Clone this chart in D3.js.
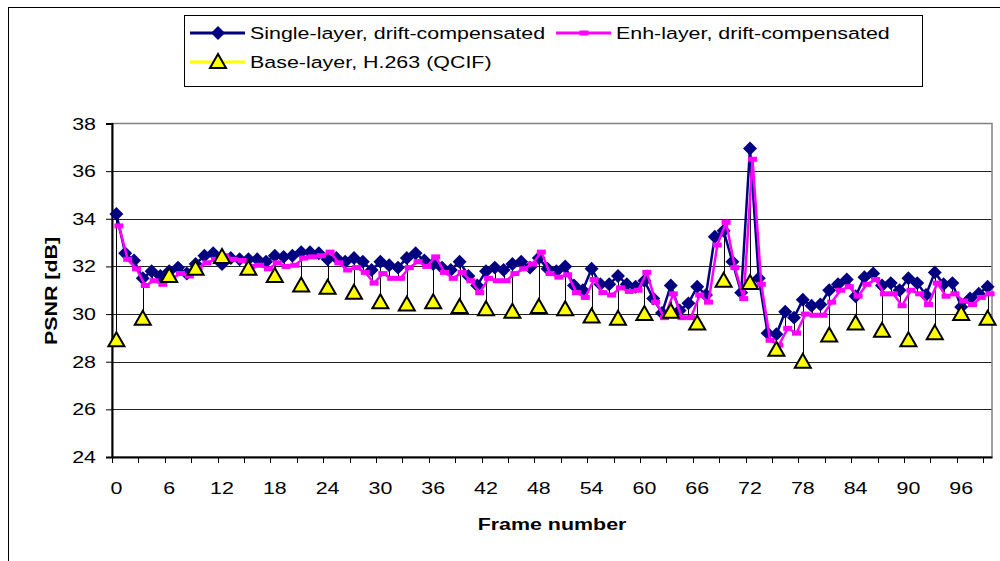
<!DOCTYPE html>
<html>
<head>
<meta charset="utf-8">
<script src="https://cdn.jsdelivr.net/npm/d3@7"></script>
<style>
  html, body { margin: 0; padding: 0; background: #fff; }
  svg { display: block; font-family: "Liberation Sans", Arial, sans-serif; }
</style>
</head>
<body>
<svg id="chart" width="1000" height="561"></svg>
<script>
// PSNR per frame
const frames = d3.range(0, 100);

const singleLayer = [
  34.2, 32.55, 32.25, 31.5, 31.8, 31.6, 31.8, 31.95, 31.7, 32.1,
  32.45, 32.55, 32.1, 32.35, 32.3, 32.3, 32.3, 32.2, 32.45, 32.4,
  32.45, 32.6, 32.6, 32.55, 32.3, 32.35, 32.2, 32.35, 32.2, 31.85,
  32.2, 32.05, 31.95, 32.35, 32.55, 32.25, 32.1, 31.95, 31.85, 32.2,
  31.6, 31.2, 31.8, 31.95, 31.85, 32.1, 32.2, 31.95, 32.35, 31.9,
  31.8, 32.0, 31.2, 31.0, 31.9, 31.25, 31.25, 31.6, 31.25, 31.15,
  31.4, 30.65, 30.05, 31.2, 30.15, 30.45, 31.15, 30.8, 33.25, 33.5,
  32.2, 30.9, 36.95, 31.5, 29.2, 29.15, 30.1, 29.85, 30.6, 30.35,
  30.4, 31.0, 31.25, 31.45, 30.75, 31.55, 31.7, 31.2, 31.3, 31.0,
  31.5, 31.3, 30.8, 31.75, 31.25, 31.3, 30.3, 30.65, 30.85, 31.15
];

const enhLayer = [
  33.7, 32.3, 31.9, 31.2, 31.4, 31.25, 31.5, 31.7, 31.6, 31.95,
  32.15, 32.3, 32.45, 32.3, 32.25, 32.0, 32.05, 31.9, 32.15, 32.0,
  32.05, 32.35, 32.4, 32.45, 32.6, 32.15, 31.85, 31.95, 31.75, 31.3,
  31.7, 31.5, 31.5, 31.95, 32.2, 32.0, 32.4, 31.75, 31.5, 31.75,
  31.4, 30.9, 31.5, 31.4, 31.4, 31.7, 31.9, 32.1, 32.6, 31.7,
  31.55, 31.65, 30.9, 30.7, 31.45, 30.9, 30.8, 31.1, 30.95, 31.0,
  31.75, 30.5, 29.85, 30.85, 29.85, 29.85, 30.8, 30.5, 32.9, 33.85,
  31.95, 30.65, 36.5, 31.25, 28.9, 28.7, 29.4, 29.2, 30.0, 29.95,
  29.95, 30.5, 31.0, 31.15, 30.75, 31.25, 31.45, 30.85, 30.85, 30.35,
  31.0, 30.85, 30.4, 31.3, 30.75, 30.85, 30.55, 30.4, 30.7, 30.85
];

// base layer is coded every third frame only
const baseFrames = d3.range(0, 100, 3);
const baseLayer = [
  28.9, 29.8, 31.6, 31.9, 32.4, 31.9, 31.6, 31.2, 31.1, 30.9,
  30.5, 30.4, 30.5, 30.3, 30.2, 30.1, 30.3, 30.2, 29.9, 29.8,
  30.0, 30.1, 29.6, 31.4, 31.3, 28.5, 28.0, 29.1, 29.6, 29.3,
  28.9, 29.2, 30.0, 29.8
];

const yTicks = [24, 26, 28, 30, 32, 34, 36, 38];

const seriesNames = [
  'Single-layer, drift-compensated',
  'Enh-layer, drift-compensated',
  'Base-layer, H.263 (QCIF)'
];

const NAVY = '#000080', MAGENTA = '#ff00ff', YELLOW = '#ffff00';
const STRETCH = 1.26;  // text in the picture is drawn wide
const ENH_SHIFT = 2.5; // enh series sits a hair right of the others

const svg = d3.select('#chart');

const x = d3.scaleBand().domain(frames).range([112, 992]).padding(0);
const cx = f => x(f) + x.bandwidth() / 2;
const y = d3.scaleLinear().domain([24, 38]).range([457, 123.5]);

function label(sel, tx, ty, str, opts = {}) {
  const g = sel.append('g')
    .attr('transform', `translate(${tx},${ty})${opts.rotate ? ' rotate(-90)' : ''} scale(${STRETCH},1)`);
  g.append('text')
    .attr('text-anchor', opts.anchor || 'start')
    .attr('font-size', '17px')
    .attr('font-weight', opts.bold ? 'bold' : 'normal')
    .attr('fill', '#000')
    .text(str);
  return g;
}

// chart area border (runs off the bottom/right of the picture)
svg.append('rect')
  .attr('x', 8.5).attr('y', 7.5)
  .attr('width', 1100).attr('height', 700)
  .attr('fill', 'none').attr('stroke', '#000').attr('stroke-width', 1);

// gridlines
svg.append('g').selectAll('line')
  .data(yTicks.filter(t => t > 24 && t < 38))
  .join('line')
  .attr('x1', 112).attr('x2', 992)
  .attr('y1', d => Math.round(y(d)) + 0.5).attr('y2', d => Math.round(y(d)) + 0.5)
  .attr('stroke', '#222').attr('stroke-width', 1.2);

// plot area border
svg.append('rect')
  .attr('x', 112).attr('y', y(38))
  .attr('width', 880).attr('height', y(24) - y(38))
  .attr('fill', 'none').attr('stroke', '#808080').attr('stroke-width', 1.5);

// y axis
const yAxis = svg.append('g')
  .attr('transform', 'translate(112,0)')
  .call(d3.axisLeft(y).tickValues(yTicks).tickSize(6).tickFormat(''));
yAxis.select('.domain').attr('stroke', '#000').attr('stroke-width', 2);
yAxis.selectAll('.tick line').attr('stroke', '#000').attr('stroke-width', 1);
yTicks.forEach(t => label(svg, 96, y(t) + 6, String(t), { anchor: 'end' }));

// x axis: ticks at every 3rd category boundary, labels every 6th
const xAxis = svg.append('g')
  .attr('transform', `translate(0,${y(24)})`)
  .call(d3.axisBottom(x).tickValues([]).tickSizeOuter(0));
xAxis.select('.domain').attr('stroke', '#000').attr('stroke-width', 2);
xAxis.selectAll('.xt')
  .data(frames.filter(f => f % 3 === 0))
  .join('line')
  .attr('class', 'xt')
  .attr('x1', d => Math.round(x(d)) + 0.5).attr('x2', d => Math.round(x(d)) + 0.5)
  .attr('y1', 0).attr('y2', 6)
  .attr('stroke', '#000');
frames.filter(f => f % 6 === 0).forEach(f => label(svg, cx(f), 494, String(f), { anchor: 'middle' }));

// axis titles
label(svg, 552, 530, 'Frame number', { anchor: 'middle', bold: true });
label(svg, 57, 291, 'PSNR [dB]', { anchor: 'middle', bold: true, rotate: true });

// high-low lines
const baseByFrame = new Map(baseFrames.map((f, i) => [f, baseLayer[i]]));
const vals = f => [singleLayer[f], enhLayer[f], baseByFrame.get(f)].filter(v => v != null);
svg.append('g').selectAll('line')
  .data(frames)
  .join('line')
  .attr('x1', d => Math.round(cx(d)) + 0.5).attr('x2', d => Math.round(cx(d)) + 0.5)
  .attr('y1', d => y(d3.max(vals(d))))
  .attr('y2', d => y(d3.min(vals(d))))
  .attr('stroke', '#000').attr('stroke-width', 1);

const line = d3.line().x(d => cx(d[0])).y(d => y(d[1]));
const diamond = d3.symbol().type(d3.symbolDiamond2).size(124);
const triangle = 'M0,-8L8,6L-8,6Z';

// single layer
svg.append('path')
  .datum(frames.map(f => [f, singleLayer[f]]))
  .attr('d', line).attr('fill', 'none')
  .attr('stroke', NAVY).attr('stroke-width', 2.5);
svg.append('g').selectAll('path')
  .data(frames)
  .join('path')
  .attr('transform', d => `translate(${cx(d)},${y(singleLayer[d])})`)
  .attr('d', diamond)
  .attr('fill', NAVY);

// enhancement layer
svg.append('path')
  .attr('transform', `translate(${ENH_SHIFT},0)`)
  .datum(frames.map(f => [f, enhLayer[f]]))
  .attr('d', line).attr('fill', 'none')
  .attr('stroke', MAGENTA).attr('stroke-width', 2.5);
svg.append('g')
  .attr('transform', `translate(${ENH_SHIFT},0)`)
  .selectAll('rect')
  .data(frames)
  .join('rect')
  .attr('x', d => cx(d) - 4.5).attr('y', d => y(enhLayer[d]) - 2.5)
  .attr('width', 9).attr('height', 5)
  .attr('fill', MAGENTA);

// base layer: markers only (gaps between coded frames)
svg.append('g').selectAll('path')
  .data(baseFrames)
  .join('path')
  .attr('transform', (d, i) => `translate(${cx(d)},${y(baseLayer[i])})`)
  .attr('d', triangle)
  .attr('fill', YELLOW).attr('stroke', '#000').attr('stroke-width', 2)
  .attr('stroke-linejoin', 'miter');

// legend
const legend = svg.append('g');
legend.append('rect')
  .attr('x', 184.5).attr('y', 15.5).attr('width', 738).attr('height', 71)
  .attr('fill', '#fff').attr('stroke', '#000').attr('stroke-width', 1);

const legendItems = [
  { x: 190, y: 33, color: NAVY, mark: 'diamond' },
  { x: 556, y: 33, color: MAGENTA, mark: 'rect' },
  { x: 190, y: 62, color: YELLOW, mark: 'triangle' }
];
legendItems.forEach((it, i) => {
  legend.append('line')
    .attr('x1', it.x).attr('x2', it.x + 55)
    .attr('y1', it.y).attr('y2', it.y)
    .attr('stroke', it.color).attr('stroke-width', 3);
  const mx = it.x + 28;
  if (it.mark === 'diamond') {
    legend.append('path').attr('transform', `translate(${mx},${it.y})`)
      .attr('d', diamond).attr('fill', NAVY);
  } else if (it.mark === 'rect') {
    legend.append('rect').attr('x', mx - 4.5).attr('y', it.y - 2.5)
      .attr('width', 9).attr('height', 5).attr('fill', MAGENTA);
  } else {
    legend.append('path').attr('transform', `translate(${mx},${it.y})`)
      .attr('d', triangle).attr('fill', YELLOW)
      .attr('stroke', '#000').attr('stroke-width', 2);
  }
  label(legend, it.x + 60, it.y + 6, seriesNames[i]);
});
</script>
</body>
</html>
